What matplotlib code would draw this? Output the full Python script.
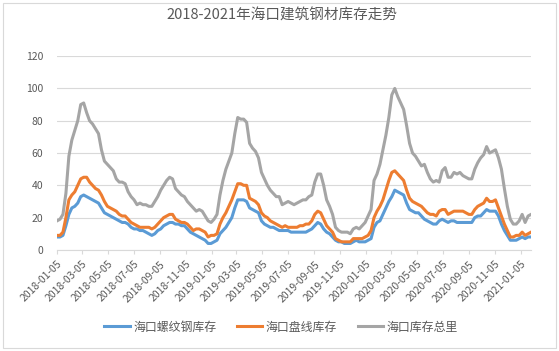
import matplotlib
matplotlib.use("Agg")
import matplotlib.pyplot as plt
import matplotlib.dates as mdates
import matplotlib.patches as patches
import pandas as pd

plt.rcParams['font.family'] = ['Noto Sans CJK SC', 'DejaVu Sans']

# weekly data, starting 2018-01-05
dates = pd.date_range('2018-01-05', periods=161, freq='7D')

rebar = [8, 8, 9, 15, 22, 26, 27, 29, 33, 34,
         33, 32, 31, 30, 29, 26, 23, 22, 21, 20,
         19, 18, 17, 17, 16, 14, 13, 13, 12, 12,
         11, 10, 9, 10, 12, 13, 15, 16, 17, 17,
         16, 16, 15, 15, 13, 11, 10, 9, 8, 7,
         6, 4, 4, 5, 6, 10, 12, 14, 17, 20,
         26, 31, 31, 31, 30, 26, 25, 24, 23, 18,
         16, 15, 14, 14, 13, 12, 12, 12, 12, 11,
         11, 11, 11, 11, 11, 12, 13, 15, 17, 16,
         13, 11, 10, 8, 6, 5, 5, 4, 4, 4,
         5, 6, 5, 5, 5, 6, 7, 14, 17, 18,
         22, 26, 30, 33, 37, 36, 35, 34, 29, 25,
         24, 23, 23, 21, 19, 18, 17, 16, 16, 18,
         19, 18, 17, 18, 18, 17, 17, 17, 17, 17,
         17, 20, 21, 21, 23, 25, 24, 24, 24, 21,
         16, 12, 9, 6, 6, 6, 7, 8, 7, 8,
         8]

wire = [9, 9, 11, 20, 31, 34, 36, 40, 44, 45,
        45, 42, 40, 38, 37, 34, 30, 27, 26, 25,
        24, 22, 21, 21, 19, 17, 16, 15, 14, 14,
        14, 14, 13, 14, 16, 18, 20, 21, 22, 22,
        19, 18, 17, 17, 16, 14, 12, 13, 13, 12,
        11, 8, 9, 9, 10, 16, 20, 23, 27, 31,
        36, 41, 41, 40, 40, 32, 31, 30, 28, 23,
        21, 20, 18, 17, 16, 15, 14, 15, 14, 14,
        14, 14, 15, 15, 16, 16, 18, 22, 24, 23,
        19, 15, 13, 11, 7, 6, 5, 5, 5, 5,
        7, 7, 7, 7, 8, 9, 12, 20, 24, 27,
        31, 37, 43, 48, 49, 47, 45, 43, 37, 32,
        30, 29, 28, 27, 25, 23, 22, 22, 21, 24,
        25, 25, 22, 23, 24, 24, 24, 24, 23, 22,
        22, 25, 27, 28, 29, 32, 30, 30, 31, 26,
        21, 16, 12, 8, 8, 9, 9, 11, 9, 10,
        11]

total = [18, 19, 22, 35, 58, 68, 74, 80, 90, 91,
         85, 80, 78, 75, 72, 62, 55, 53, 51, 49,
         44, 42, 42, 41, 36, 33, 31, 28, 29, 28,
         28, 27, 27, 30, 33, 37, 40, 43, 45, 44,
         38, 36, 34, 33, 30, 28, 26, 24, 25, 24,
         21, 18, 17, 19, 22, 34, 43, 50, 55, 60,
         72, 82, 81, 81, 79, 66, 63, 61, 57, 48,
         44, 40, 37, 35, 33, 33, 28, 29, 30, 29,
         28, 29, 30, 31, 31, 33, 34, 42, 47, 47,
         40, 31, 27, 22, 14, 12, 11, 11, 11, 10,
         13, 14, 13, 15, 17, 21, 25, 43, 47, 53,
         62, 71, 82, 96, 100, 95, 91, 87, 77, 66,
         60, 58, 55, 52, 53, 48, 44, 42, 43, 42,
         49, 51, 45, 45, 48, 47, 48, 46, 45, 44,
         44, 50, 54, 57, 59, 64, 60, 61, 62, 57,
         50, 38, 27, 19, 16, 16, 18, 22, 17, 21,
         22]

series_names = ['海口螺纹钢库存', '海口盘线库存', '海口库存总里']
series_colors = ['#5b9bd5', '#ed7d31', '#a5a5a5']
yticks = [0, 20, 40, 60, 80, 100, 120]

fig = plt.figure(figsize=(5.59, 3.51), dpi=100)
ax = fig.add_axes([0.102, 0.288, 0.848, 0.552])

for vals, name, col in zip([rebar, wire, total], series_names, series_colors):
    ax.plot(dates, vals, color=col, lw=2.2, label=name, solid_joinstyle='round')

ax.set_ylim(0, 120)
ax.set_yticks(yticks)
ax.set_xlim(dates[0], dates[-1])
xt = [pd.Timestamp(2018 + m // 12, m % 12 + 1, 5) for m in range(0, 37, 2)]
ax.set_xticks(xt)
ax.xaxis.set_major_formatter(mdates.DateFormatter('%Y-%m-%d'))
ax.grid(axis='y', color='#d9d9d9', lw=0.8)
ax.set_axisbelow(True)
for s in ['top', 'right', 'left']:
    ax.spines[s].set_visible(False)
ax.spines['bottom'].set_color('#d9d9d9')
ax.tick_params(axis='y', length=0, labelsize=7.5, labelcolor='#595959', pad=10)
ax.tick_params(axis='x', length=3, color='#d9d9d9', labelsize=7.5, labelcolor='#595959')
for lab in ax.get_xticklabels():
    lab.set_rotation(45)
    lab.set_ha('right')
    lab.set_rotation_mode('anchor')

fig.suptitle('2018-2021年海口建筑钢材库存走势', x=0.505, y=0.975, fontsize=10.5, color='#595959')
fig.legend(loc='center', bbox_to_anchor=(0.503, 0.068), ncol=3, frameon=False,
           fontsize=8.6, labelcolor='#595959', handlelength=2.1, handletextpad=0.3,
           columnspacing=1.75)

fig.patches.append(patches.Rectangle((0.006, 0.009), 0.988, 0.982, transform=fig.transFigure,
                                     fill=False, edgecolor='#d9d9d9', lw=0.8))

plt.savefig('out.png', dpi=100)
